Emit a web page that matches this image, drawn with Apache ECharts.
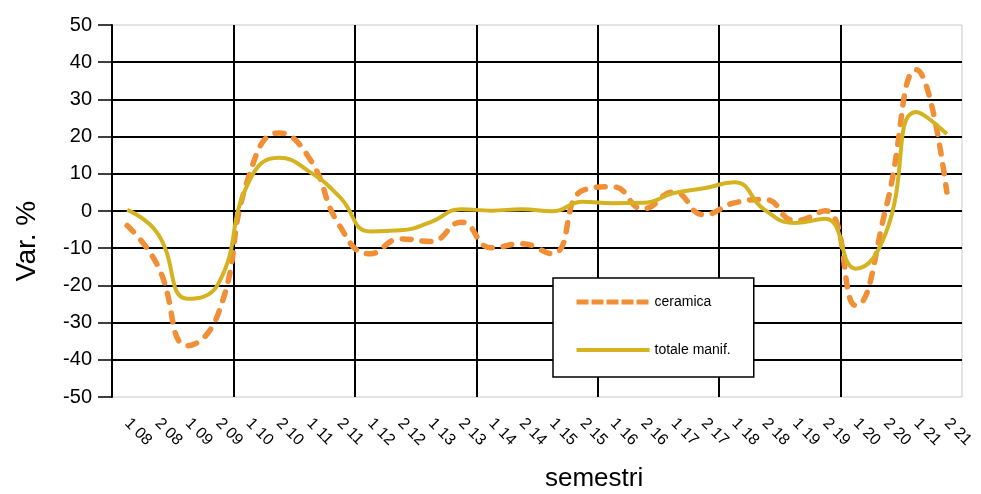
<!DOCTYPE html>
<html>
<head>
<meta charset="utf-8">
<script src="https://cdn.jsdelivr.net/npm/echarts@6/dist/echarts.min.js"></script>
<style>
  html, body { margin: 0; padding: 0; background: #fff; }
  #chart { width: 981px; height: 494px; }
</style>
</head>
<body>
<div id="chart"></div>
<script>
// Semesters: first and second half of each year, 2008-2021
const categories = [
  '1 08', '2 08', '1 09', '2 09', '1 10', '2 10', '1 11', '2 11',
  '1 12', '2 12', '1 13', '2 13', '1 14', '2 14', '1 15', '2 15',
  '1 16', '2 16', '1 17', '2 17', '1 18', '2 18', '1 19', '2 19',
  '1 20', '2 20', '1 21', '2 21'
];

// Percentage change, ceramics sector
const ceramica = [
  -3.9, -14.6, -36.2, -27.6, 9.1, 21.0, 14.2, -4.0,
  -11.5, -7.5, -8.2, -3.0, -9.9, -8.8, -11.5, 5.5,
  6.5, 0.6, 5.1, -1.0, 2.2, 3.1, -2.6, 0.1,
  -25.4, 1.0, 38.0, 5.1
];

// Percentage change, total manufacturing
const totaleManif = [
  0.3, -6.0, -23.6, -19.6, 7.7, 14.3, 10.6, 3.8,
  -5.5, -5.2, -3.0, 0.5, 0.1, 0.5, -0.1, 2.5,
  2.1, 2.2, 4.8, 6.1, 7.7, 0.3, -3.2, -2.1,
  -15.5, -5.7, 26.6, 20.7
];

// Value-axis ticks
const yTicks = { min: -50, max: 50, step: 10 };

const FONT = 'Liberation Sans, Arial, sans-serif';
const ORANGE = '#F08F36';
const MUSTARD = '#D4B220';

const chart = echarts.init(document.getElementById('chart'), null, { renderer: 'canvas' });

chart.setOption({
  animation: false,
  backgroundColor: '#fff',
  textStyle: { fontFamily: FONT, color: '#000' },
  title: {
    text: 'semestri',
    left: 545,
    top: 466,
    padding: 0,
    textStyle: { fontFamily: FONT, fontSize: 26, fontWeight: 'normal', color: '#000' }
  },
  graphic: [{
    type: 'text',
    x: 27,
    y: 241,
    rotation: Math.PI / 2,
    style: {
      text: 'Var. %',
      font: '28px ' + FONT,
      fill: '#000',
      align: 'center',
      verticalAlign: 'middle'
    }
  }],
  legend: {
    orient: 'vertical',
    left: 553,
    top: 278,
    padding: [17, 23, 20, 21],
    itemWidth: 73,
    itemHeight: 14,
    itemGap: 34,
    backgroundColor: '#fff',
    borderColor: '#000',
    borderWidth: 1.5,
    itemStyle: { opacity: 0, borderWidth: 0 },
    textStyle: { fontFamily: FONT, fontSize: 14, color: '#000' },
    data: [
      { name: 'ceramica', lineStyle: { color: ORANGE, width: 5, type: [12, 3], cap: 'butt' } },
      { name: 'totale manif.', lineStyle: { color: MUSTARD, width: 4, type: 'solid' } }
    ]
  },
  grid: {
    left: 112,
    right: 19,
    top: 25,
    bottom: 97,
    show: true,
    borderColor: '#c8c8c8',
    borderWidth: 1,
    backgroundColor: 'transparent'
  },
  xAxis: {
    type: 'category',
    data: categories,
    boundaryGap: true,
    axisLine: { show: false },
    axisTick: { show: false },
    axisLabel: {
      interval: 0,
      rotate: -45,
      margin: 24,
      fontSize: 16,
      fontFamily: FONT,
      color: '#000'
    },
    splitLine: {
      show: true,
      // a vertical rule every four semesters
      interval: (index) => index % 4 === 0,
      showMinLine: false,
      showMaxLine: false,
      lineStyle: { color: '#000', width: 2 }
    }
  },
  yAxis: {
    type: 'value',
    min: yTicks.min,
    max: yTicks.max,
    interval: yTicks.step,
    axisLine: { show: true, lineStyle: { color: '#000', width: 2 } },
    axisTick: { show: true, inside: false, length: 14, lineStyle: { color: '#000', width: 1.5 } },
    axisLabel: { margin: 20, fontSize: 20, fontFamily: FONT, color: '#000' },
    splitLine: {
      show: true,
      showMinLine: false,
      showMaxLine: false,
      lineStyle: { color: '#000', width: 2 }
    }
  },
  series: [
    {
      name: 'ceramica',
      type: 'line',
      data: ceramica,
      smooth: true,
      symbol: 'none',
      z: 3,
      itemStyle: { color: ORANGE },
      lineStyle: { color: ORANGE, width: 5.5, type: [9, 11], cap: 'round' }
    },
    {
      name: 'totale manif.',
      type: 'line',
      data: totaleManif,
      smooth: true,
      symbol: 'none',
      z: 4,
      itemStyle: { color: MUSTARD },
      lineStyle: { color: MUSTARD, width: 4 }
    }
  ]
});
</script>
</body>
</html>
